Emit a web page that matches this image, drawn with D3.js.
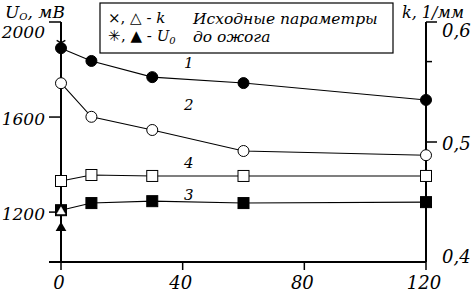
<!DOCTYPE html>
<html>
<head>
<meta charset="utf-8">
<script src="https://cdn.jsdelivr.net/npm/d3@7"></script>
<style>
  body { margin: 0; background: #fff; }
  svg text { font-family: "DejaVu Serif", serif; font-style: italic; }
</style>
</head>
<body>
<div id="chart"></div>
<script>
// time after burn, points of every curve
const times = [0, 10, 30, 60, 120];

// U0, mV (left axis)
const curve1 = [1890, 1836, 1768, 1743, 1672];
const curve3 = [1208, 1238, 1246, 1238, 1242];

// k, 1/mm (right axis)
const curve2 = [0.549, 0.521, 0.510, 0.4925, 0.489];
const curve4 = [0.4675, 0.4725, 0.4717, 0.4717, 0.4717];

// initial parameters before burn (at t = 0)
const initU0 = [1912, 1133];
const initK = [0.442];

// ticks
const xTicks = [0, 40, 80, 120];
const uTicks = [1200, 1600, 2000];
const kTicks = [0.4, 0.5, 0.6];
const kMinor = [0.567];

const width = 472, height = 293;

const svg = d3.select("#chart").append("svg")
  .attr("width", width)
  .attr("height", height);

// scales
const x = d3.scaleLinear().domain([0, 120]).range([61, 426]);
const yU = d3.scaleLinear().domain([990, 2000]).range([262, 22]);
const yK = d3.scaleLinear().domain([0.4, 0.6]).range([262, 22]);

const axisColor = "#000";

// axes lines
svg.append("line")   // bottom
  .attr("x1", 49).attr("x2", x(120))
  .attr("y1", yU.range()[0]).attr("y2", yU.range()[0])
  .attr("stroke", axisColor).attr("stroke-width", 2);
svg.append("line")   // left
  .attr("x1", x(0)).attr("x2", x(0))
  .attr("y1", yU(2000)).attr("y2", yU.range()[0])
  .attr("stroke", axisColor).attr("stroke-width", 2);
svg.append("line")   // right
  .attr("x1", x(120)).attr("x2", x(120))
  .attr("y1", yK(0.6)).attr("y2", yK(0.4))
  .attr("stroke", axisColor).attr("stroke-width", 2);

// x ticks + labels
svg.selectAll(".xtick").data(xTicks).enter().append("line")
  .attr("x1", d => x(d)).attr("x2", d => x(d))
  .attr("y1", 262).attr("y2", 270)
  .attr("stroke", axisColor).attr("stroke-width", 1.5);
svg.selectAll(".xlab").data(xTicks).enter().append("text")
  .attr("x", d => x(d) - 2)
  .attr("y", 289)
  .attr("text-anchor", "middle")
  .style("font-size", "18px")
  .text(d => d);

// left ticks + labels
svg.selectAll(".utick").data(uTicks).enter().append("line")
  .attr("x1", 49).attr("x2", x(0))
  .attr("y1", d => yU(d)).attr("y2", d => yU(d))
  .attr("stroke", axisColor).attr("stroke-width", 1.5);
svg.selectAll(".ulab").data(uTicks).enter().append("text")
  .attr("x", 45)
  .attr("y", d => d === 2000 ? yU(d) + 16 : yU(d) + 8)
  .attr("text-anchor", "end")
  .style("font-size", "17px")
  .text(d => d);

// right ticks + labels
svg.selectAll(".ktick").data(kTicks.filter(d => d > 0.4)).enter().append("line")
  .attr("x1", x(120)).attr("x2", x(120) + 11)
  .attr("y1", d => yK(d)).attr("y2", d => yK(d))
  .attr("stroke", axisColor).attr("stroke-width", 1.5);
svg.selectAll(".kminor").data(kMinor).enter().append("line")
  .attr("x1", x(120)).attr("x2", x(120) + 6)
  .attr("y1", d => yK(d)).attr("y2", d => yK(d))
  .attr("stroke", axisColor).attr("stroke-width", 1.5);
svg.selectAll(".klab").data(kTicks).enter().append("text")
  .attr("x", 442)
  .attr("y", d => d === 0.6 ? yK(d) + 15 : (d === 0.4 ? yK(d) + 1 : yK(d) + 8))
  .style("font-size", "18px")
  .text(d => d3.format(".1f")(d).replace(".", ","));

// axis titles
const uTitle = svg.append("text").attr("x", 5).attr("y", 18).style("font-size", "17px");
uTitle.append("tspan").text("U");
uTitle.append("tspan").attr("dy", 2).style("font-size", "10px").text("O");
uTitle.append("tspan").attr("dy", -2).text(", мВ");

svg.append("text").attr("x", 402).attr("y", 18)
  .style("font-size", "16px")
  .text("k, 1/мм");

// legend
svg.append("rect")
  .attr("x", 100).attr("y", 3)
  .attr("width", 293).attr("height", 50)
  .attr("fill", "#fff").attr("stroke", "#000").attr("stroke-width", 1.2);

const leg1 = svg.append("text").attr("x", 108).attr("y", 23)
  .style("font-size", "15px").style("font-style", "normal");
leg1.append("tspan").text("×, △ - ");
leg1.append("tspan").style("font-style", "italic").text("k");
const leg2 = svg.append("text").attr("x", 108).attr("y", 41)
  .style("font-size", "15px").style("font-style", "normal");
leg2.append("tspan").text("✳, ▲ - ");
leg2.append("tspan").style("font-style", "italic").text("U");
leg2.append("tspan").attr("dy", 3).style("font-size", "10px").style("font-style", "italic").text("0");

svg.append("text").attr("x", 193).attr("y", 24)
  .style("font-size", "15.5px").text("Исходные параметры");
svg.append("text").attr("x", 193).attr("y", 42)
  .style("font-size", "15.5px").text("до ожога");

// curves
const series = [
  { name: "1", values: curve1, y: yU, marker: "circle", fill: "#000" },
  { name: "2", values: curve2, y: yK, marker: "circle", fill: "#fff" },
  { name: "3", values: curve3, y: yU, marker: "square", fill: "#000" },
  { name: "4", values: curve4, y: yK, marker: "square", fill: "#fff" }
];

series.forEach(s => {
  const pts = times.map((t, i) => ({ t: t, v: s.values[i] }));
  const line = d3.line().x(d => x(d.t)).y(d => s.y(d.v));

  svg.append("path")
    .attr("d", line(pts))
    .attr("fill", "none")
    .attr("stroke", "#000")
    .attr("stroke-width", 1.1);

  if (s.marker === "circle") {
    svg.selectAll(null).data(pts).enter().append("circle")
      .attr("cx", d => x(d.t)).attr("cy", d => s.y(d.v))
      .attr("r", 5.5)
      .attr("fill", s.fill).attr("stroke", "#000").attr("stroke-width", 1);
  } else {
    svg.selectAll(null).data(pts).enter().append("rect")
      .attr("x", d => x(d.t) - 5.5).attr("y", d => s.y(d.v) - 5.5)
      .attr("width", 11).attr("height", 11)
      .attr("fill", s.fill).attr("stroke", "#000").attr("stroke-width", 1);
  }
});

// curve numbers
const curveLabels = [
  { name: "1", t: 42, v: 1808, y: yU },
  { name: "2", t: 42, v: 0.527, y: yK },
  { name: "4", t: 42, v: 0.478, y: yK },
  { name: "3", t: 42, v: 1250, y: yU }
];
svg.selectAll(".clab").data(curveLabels).enter().append("text")
  .attr("x", d => x(d.t))
  .attr("y", d => d.y(d.v))
  .attr("text-anchor", "middle")
  .style("font-size", "15px")
  .text(d => d.name);

// initial markers at t = 0
const star = d3.symbol().type(d3.symbolAsterisk).size(70);
svg.append("path")
  .attr("d", star())
  .attr("transform", `translate(${x(0)},${yU(initU0[0])})`)
  .attr("fill", "none").attr("stroke", "#000").attr("stroke-width", 1.3);
svg.append("path")
  .attr("d", d3.symbol().type(d3.symbolTriangle).size(50)())
  .attr("transform", `translate(${x(0)},${yU(initU0[1])})`)
  .attr("fill", "#000");
svg.append("path")
  .attr("d", d3.symbol().type(d3.symbolTriangle).size(30)())
  .attr("transform", `translate(${x(0)},${yK(initK[0])})`)
  .attr("fill", "#fff").attr("stroke", "#fff").attr("stroke-width", 0.5);
</script>
</body>
</html>
